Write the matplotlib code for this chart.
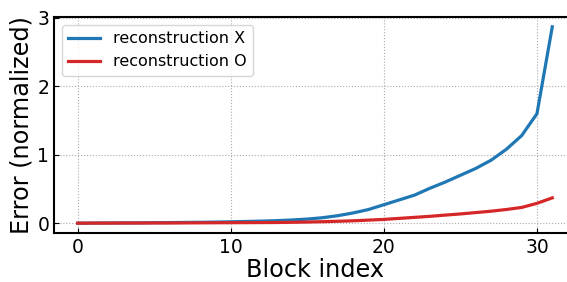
import numpy as np
import matplotlib
matplotlib.use("Agg")
import matplotlib.pyplot as plt

block = list(range(32))
err_x = [0.0, 0.002, 0.003, 0.004, 0.005, 0.007, 0.009, 0.011, 0.013, 0.016,
         0.02, 0.025, 0.03, 0.037, 0.047, 0.06, 0.08, 0.11, 0.15, 0.2,
         0.27, 0.34, 0.41, 0.51, 0.6, 0.7, 0.8, 0.92, 1.08, 1.28,
         1.6, 2.87]
err_o = [0.0, 0.001, 0.001, 0.002, 0.002, 0.003, 0.003, 0.004, 0.005, 0.006,
         0.007, 0.008, 0.009, 0.01, 0.013, 0.017, 0.022, 0.028, 0.035, 0.045,
         0.055, 0.07, 0.085, 0.1, 0.118, 0.135, 0.155, 0.175, 0.2, 0.23,
         0.29, 0.37]

fig = plt.figure(figsize=(5.67, 2.82), dpi=100)
ax = fig.add_axes([54/567, 49/282, 522/567, 216/282])

ax.plot(block, err_x, color="#1f77b4", lw=2.3, label="reconstruction X")
ax.plot(block, err_o, color="#d62728", lw=2.3, label="reconstruction O")

ax.set_xticks([0, 10, 20, 30])
ax.set_yticks([0, 1, 2, 3])
ax.tick_params(direction="in", labelsize=13.5)
ax.grid(True, linestyle=":", color="#aaaaaa", lw=0.8)
for s in ax.spines.values():
    s.set_linewidth(1.5)
ax.set_xlabel("Block index", fontsize=17.3, labelpad=1)
ax.set_ylabel("Error (normalized)", fontsize=17.3, labelpad=3)
ax.legend(loc="upper left", fontsize=11.5, borderaxespad=0.5)

fig.savefig("out.png", dpi=100)
